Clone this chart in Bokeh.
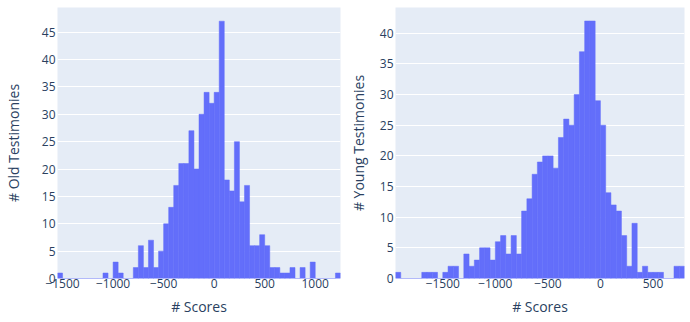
import numpy as np
from bokeh.plotting import figure
from bokeh.layouts import row
from bokeh.models import Range1d, FixedTicker, ColumnDataSource
from bokeh.embed import file_html
from bokeh.resources import INLINE

# ---- data ----
bin_size = 50
old_bin_start = -1550
old_counts = [1, 0, 0, 0, 0, 0, 0, 0, 0, 1, 0, 3, 1, 0, 0,
              2, 6, 2, 7, 2, 5, 10, 13, 17, 21,
              21, 27, 20, 30, 34, 32, 34, 47, 18, 16,
              25, 14, 17, 6, 6, 8, 6, 2, 2, 1,
              1, 2, 0, 2, 0, 3, 0, 0, 0, 0, 1]
young_bin_start = -1950
young_counts = [1, 0, 0, 0, 0, 1, 1, 1, 0, 1, 2, 2, 0, 4, 2,
                3, 5, 5, 3, 6, 7, 4, 7, 4, 11, 13, 17, 19, 20, 20,
                18, 23, 26, 25, 30, 37, 42, 42, 29, 25, 14, 12, 11, 7, 2,
                9, 1, 2, 1, 1, 1, 0, 0, 2, 2]
old_xticks = [-1500, -1000, -500, 0, 500, 1000]
young_xticks = [-1500, -1000, -500, 0, 500]
old_yticks = [0, 5, 10, 15, 20, 25, 30, 35, 40, 45]
young_yticks = [0, 5, 10, 15, 20, 25, 30, 35, 40]
x_title = "# Scores"
old_y_title = "# Old Testimonies"
young_y_title = "# Young Testimonies"

FONT = "Open Sans"
TXT = "#2a3f5f"
BG = "#E5ECF6"
BAR = "#636efa"


def fmt(v):
    return ("\u2212" + str(abs(v))) if v < 0 else str(v)


def hist_fig(start, counts, xticks, yticks, ytitle, width, height,
             bl, br, bt, bb, ymax, ytitle_standoff):
    n = len(counts)
    left = start + bin_size * np.arange(n)
    src = ColumnDataSource(dict(left=left, right=left + bin_size,
                                top=np.array(counts)))
    p = figure(width=width, height=height, output_backend="svg",
               toolbar_location=None,
               x_range=Range1d(start, start + bin_size * n),
               y_range=Range1d(0, ymax),
               min_border_left=bl, min_border_right=br,
               min_border_top=bt, min_border_bottom=bb)
    p.background_fill_color = BG
    p.border_fill_color = "white"
    p.outline_line_color = None
    p.quad(left="left", right="right", top="top", bottom=0, source=src,
           fill_color=BAR, line_color=BAR, line_width=0.5)
    p.xgrid.grid_line_color = None
    p.ygrid.grid_line_color = "white"
    p.ygrid.grid_line_width = 1
    p.xaxis.ticker = FixedTicker(ticks=xticks)
    p.yaxis.ticker = FixedTicker(ticks=yticks)
    p.xaxis.major_label_overrides = {t: fmt(t) for t in xticks}
    p.yaxis.major_label_overrides = {t: fmt(t) for t in yticks}
    for ax in (p.xaxis[0], p.yaxis[0]):
        ax.axis_line_color = None
        ax.major_tick_line_color = None
        ax.minor_tick_line_color = None
        ax.major_tick_out = 0
        ax.major_tick_in = 0
        ax.major_label_text_font = FONT
        ax.major_label_text_font_size = "12px"
        ax.major_label_text_color = TXT
        ax.axis_label_text_font = FONT
        ax.axis_label_text_font_size = "14px"
        ax.axis_label_text_font_style = "normal"
        ax.axis_label_text_color = TXT
    p.xaxis.axis_label = x_title
    p.yaxis.axis_label = ytitle
    p.xaxis.major_label_standoff = 0
    p.xaxis.axis_label_standoff = 6
    p.yaxis.major_label_standoff = 2
    p.yaxis.axis_label_standoff = ytitle_standoff
    return p


p1 = hist_fig(old_bin_start, old_counts, old_xticks, old_yticks, old_y_title,
              width=345, height=322, bl=53, br=5, bt=7, bb=44, ymax=49.5,
              ytitle_standoff=16)
p2 = hist_fig(young_bin_start, young_counts, young_xticks, young_yticks,
              young_y_title, width=345, height=322, bl=50, br=6, bt=4,
              bb=43, ymax=44.2, ytitle_standoff=9)

layout = row(p1, p2)
open("out.html", "w").write(file_html(layout, INLINE))
